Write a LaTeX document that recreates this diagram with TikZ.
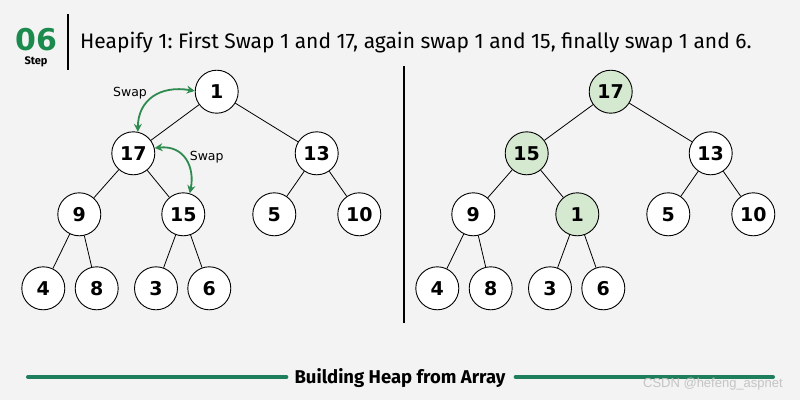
\documentclass[tikz,border=0pt]{standalone}
\usepackage{fontspec}
\setmainfont{Fira Sans}
\newfontfamily\numfont{DejaVu Sans}
\newfontfamily\wmfont{Liberation Sans}
\usetikzlibrary{arrows.meta}
\frenchspacing
\definecolor{bgc}{HTML}{F3F3F3}
\definecolor{stepgreen}{HTML}{1B8A4D}
\definecolor{arrowgreen}{HTML}{2E8B4F}
\definecolor{hlfill}{HTML}{D5E8D0}
\definecolor{linegreen}{HTML}{1F7F5C}
\definecolor{wmgray}{HTML}{C4C4C4}
\tikzset{
  hnode/.style={circle, draw=black, line width=0.9pt, fill=white, minimum size=43pt, inner sep=0pt,
    font=\numfont\bfseries\fontsize{19}{21}\selectfont},
  hl/.style={fill=hlfill},
  edge/.style={draw=black, line width=0.8pt},
  swaparrow/.style={draw=arrowgreen, line width=1.8pt, {Stealth[length=8pt,width=8pt]}-{Stealth[length=8pt,width=8pt]}},
  swaplabel/.style={font=\numfont\fontsize{12.5}{14}\selectfont, text=black},
  footline/.style={draw=linegreen, line width=4pt, line cap=round}
}
\begin{document}
\begin{tikzpicture}[x=1pt,y=-1pt]
\useasboundingbox (0,0) rectangle (800,400);
\fill[bgc] (0,0) rectangle (800,400);
% header
\node[font=\numfont\bfseries\fontsize{30}{32}\selectfont, text=stepgreen, inner sep=0pt] (num) at (36,40) {06};
\node[font=\bfseries\fontsize{11}{13}\selectfont, inner sep=0pt] (steplbl) at (36,62) {Step};
\draw[line width=1.5pt] (68,14) -- (68,70);
\node[anchor=west, font=\fontsize{21}{24}\selectfont, inner sep=0pt] (title) at (80,43) {Heapify 1: First Swap 1 and 17, again swap 1 and 15, finally swap 1 and 6.};
% divider
\draw[line width=1.2pt] (404,66) -- (404,323);
% left tree
\node[hnode] (L1) at (216.7,91.7) {1};
\node[hnode] (L17) at (133.3,153.3) {17};
\node[hnode] (L13) at (316.7,153.3) {13};
\node[hnode] (L9) at (79.3,214.3) {9};
\node[hnode] (L15) at (183.3,214.3) {15};
\node[hnode] (L5) at (274.3,214.3) {5};
\node[hnode] (L10) at (359.3,214.3) {10};
\node[hnode] (L4) at (43.3,288.3) {4};
\node[hnode] (L8) at (96.7,288.3) {8};
\node[hnode] (L3) at (156,288.3) {3};
\node[hnode] (L6) at (209.3,288.3) {6};
\foreach \a/\b in {L1/L17,L1/L13,L17/L9,L17/L15,L13/L5,L13/L10,L9/L4,L9/L8,L15/L3,L15/L6}
  \draw[edge] (\a) -- (\b);
% right tree
\node[hnode,hl] (R17) at (610.7,91.7) {17};
\node[hnode,hl] (R15) at (526.7,153.3) {15};
\node[hnode] (R13) at (710.7,153.3) {13};
\node[hnode] (R9) at (473.3,214.3) {9};
\node[hnode,hl] (R1) at (577.3,214.3) {1};
\node[hnode] (R5) at (668.3,214.3) {5};
\node[hnode] (R10) at (753.3,214.3) {10};
\node[hnode] (R4) at (437.3,288.3) {4};
\node[hnode] (R8) at (490.7,288.3) {8};
\node[hnode] (R3) at (550,288.3) {3};
\node[hnode] (R6) at (603.3,288.3) {6};
\foreach \a/\b in {R17/R15,R17/R13,R15/R9,R15/R1,R13/R5,R13/R10,R9/R4,R9/R8,R1/R3,R1/R6}
  \draw[edge] (\a) -- (\b);
% swap arrows
\draw[swaparrow] (L1.178) .. controls (160,85) and (138,100) .. (L17.78);
\draw[swaparrow] (L17.14) .. controls (185,145) and (195,168) .. (L15.73);
\node[swaplabel] (sw1) at (130,93) {Swap};
\node[swaplabel] (sw2) at (206.7,156.7) {Swap};
% footer
\node[font=\bfseries\fontsize{18.5}{20}\selectfont, inner sep=0pt] (foot) at (400,378) {Building Heap from Array};
\coordinate (fl) at (28,377);
\coordinate (fr) at (773,377);
\draw[footline] (fl) -- ([xshift=-8pt]foot.west |- fl);
\draw[footline] ([xshift=10pt]foot.east |- fr) -- (fr);
\node[font=\wmfont\fontsize{13}{15}\selectfont, text=wmgray, anchor=east, inner sep=0pt] (wm) at (783,384) {CSDN @hefeng\_aspnet};
\end{tikzpicture}
\end{document}
